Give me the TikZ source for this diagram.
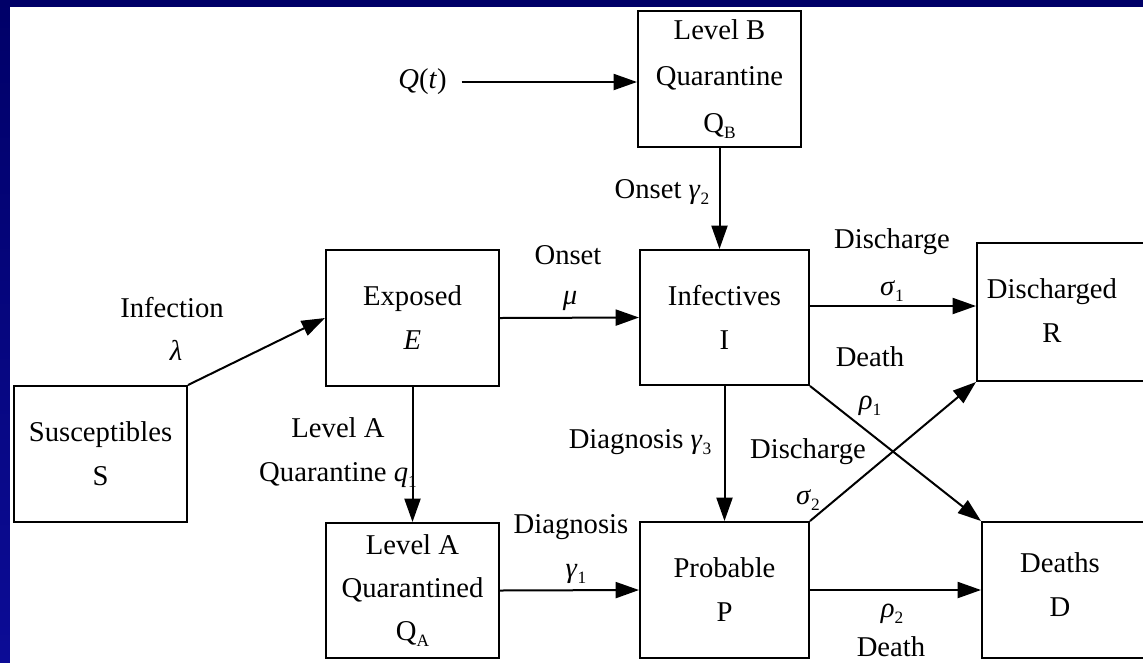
\documentclass[tikz,border=0pt]{standalone}
\usepackage{fontspec}
\setmainfont{Liberation Serif}
\usetikzlibrary{arrows.meta,calc}
\definecolor{navydark}{RGB}{0,0,104}
\definecolor{navylight}{RGB}{12,12,150}
% small lowered index after a symbol
\newcommand{\lowsub}[1]{\raisebox{-0.45ex}{\fontsize{13}{13}\selectfont #1}}
\newcommand{\gk}[1]{\textit{#1}}

\begin{document}
\begin{tikzpicture}[x=0.75pt,y=-0.75pt,
  every node/.style={font=\fontsize{21.5}{33}\selectfont, inner sep=0pt},
  box/.style={draw, line width=1.5pt, align=center},
  flow/.style={line width=1.5pt, -{Triangle[length=17.5pt,width=12pt]}},
  lbl/.style={align=center}]
\clip (0,0) rectangle (1143,662);
% page background and drawing area
\shade[top color=navydark, bottom color=navylight] (0,0) rectangle (1143,662);
\fill[white] (10,7) rectangle (1160,680);

% compartments
\node[box, minimum width=129.75pt, minimum height=102pt] (S) at (100.5,454) {Susceptibles\\S};
\node[box, minimum width=129.75pt, minimum height=102pt] (E) at (412.5,318) {Exposed\\\textit{E}};
\node[box, minimum width=126.75pt, minimum height=101.25pt] (I) at (724.5,317.5) {Infectives\\I};
\node[box, minimum width=122.25pt, minimum height=102pt, font=\fontsize{21.5}{35}\selectfont] (QB) at (719.5,79) {Level B\\Quarantine\\Q\lowsub{B}};
\node[box, minimum width=129.75pt, minimum height=101.25pt, font=\fontsize{21.5}{32}\selectfont] (QA) at (412.5,590.5) {Level A\\Quarantined\\Q\lowsub{A}};
\node[box, minimum width=126.75pt, minimum height=102pt] (P) at (724.5,590) {Probable\\P};
\node[box, minimum width=141pt, minimum height=103.5pt] (R) at (1071,312) {};
\node[lbl] (Rtext) at (1052,311) {Discharged\\R};
\node[box, minimum width=137.25pt, minimum height=102pt] (D) at (1073.5,590) {};
\node[lbl] (Dtext) at (1060,585) {Deaths\\D};

% external input
\node[inner xsep=11pt] (Qt) at (422.5,82) {\textit{Q}(\textit{t})};
\coordinate (dR) at (0,306);

% flows
\draw[flow] (S.north east) -- (E.west);
\draw[flow] (E.east) -- (I.west);
\draw[flow] (E.south) -- (QA.north);
\draw[flow] (QA.east) -- (P.west);
\draw[flow] (Qt.east) -- (Qt.east -| QB.west);
\draw[flow] (QB.south) -- (QB.south |- I.north);
\draw[flow] (I.east |- dR) -- (R.west |- dR);
\draw[flow] (I.south) -- (I.south |- P.north);
\draw[flow] (I.south east) -- (D.north west);
\draw[flow] (P.north east) -- (R.south west);
\draw[flow] (P.east) -- (P.east -| D.west);

% rate labels
\node (lInf) at (172,308) {Infection};
\node (lLam) at (176,350) {\gk{λ}};
\node[lbl] (lLvA) at (338,453) {Level A\\Quarantine \textit{q}\lowsub{1}};
\node (lOn) at (568,255) {Onset};
\node (lMu) at (570,301) {\gk{μ}};
\node (lOn2) at (662,192) {Onset \gk{γ}\lowsub{2}};
\node (lDis1) at (892,242) {Discharge};
\node (lSig1) at (892,291) {\gk{σ}\lowsub{1}};
\node (lDe1) at (870,357) {Death};
\node (lRho1) at (870,406) {\gk{ρ}\lowsub{1}};
\node (lDia3) at (640,442) {Diagnosis \gk{γ}\lowsub{3}};
\node (lDis2) at (808,452) {Discharge};
\node (lSig2) at (808,500) {\gk{σ}\lowsub{2}};
\node (lDia1) at (571,527) {Diagnosis};
\node (lGam1) at (576,574) {\gk{γ}\lowsub{1}};
\node (lRho2) at (892,614) {\gk{ρ}\lowsub{2}};
\node (lDe2) at (891,647) {Death};
\end{tikzpicture}
\end{document}
